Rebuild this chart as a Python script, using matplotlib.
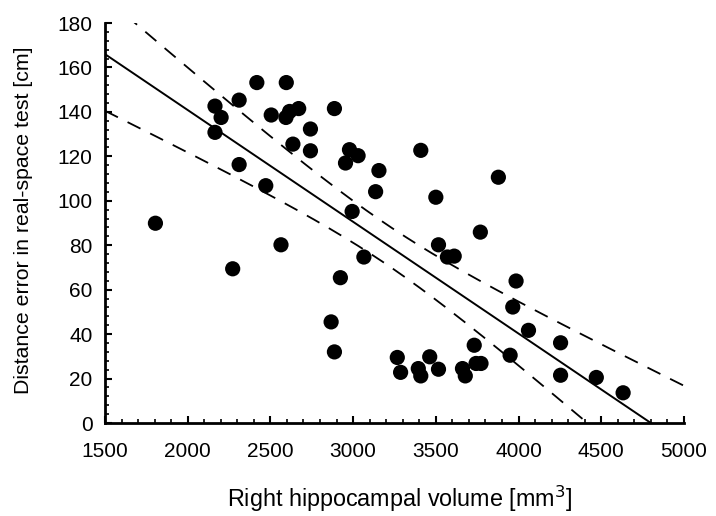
import numpy as np
import matplotlib
matplotlib.use("Agg")
import matplotlib.pyplot as plt
from matplotlib.ticker import MultipleLocator

plt.rcParams['font.family'] = ['Liberation Sans', 'DejaVu Sans']

# Data
volume = [2418, 2596, 2311, 2165, 2202, 2505, 2594, 2616, 2671, 2887,
          2742, 2165, 2636, 2742, 2978, 3030, 2954, 3156, 3136, 2311,
          2472, 2994, 1805, 2564, 2272, 3065, 2923, 2867, 2887, 3267,
          3287, 3409, 3878, 3500, 3769, 3516, 3570, 3611, 3985, 3965,
          4060, 4254, 3732, 3949, 3463, 3394, 3409, 3516, 3661, 3678,
          3743, 3773, 4254, 4470, 4632]
error = [153.2, 153.2, 145.3, 142.6, 137.5, 138.6, 137.5, 140.2, 141.5, 141.5,
         132.3, 130.8, 125.5, 122.5, 123.0, 120.3, 117.0, 113.6, 104.1, 116.3,
         106.8, 95.2, 89.9, 80.2, 69.4, 74.7, 65.4, 45.5, 32.0, 29.5,
         22.8, 122.7, 110.6, 101.6, 85.9, 80.2, 74.7, 75.1, 63.9, 52.2,
         41.7, 36.1, 35.0, 30.5, 29.8, 24.5, 21.2, 24.2, 24.5, 21.2,
         26.8, 26.8, 21.5, 20.5, 13.6]

# Regression line and confidence band parameters
fit_intercept_at_1500 = 166.0
fit_slope = -166.0 / 3300.0
band_center = 3200.0
band_min_halfwidth = 9.0
band_curvature = 1.97e-4

xticks = [1500, 2000, 2500, 3000, 3500, 4000, 4500, 5000]
yticks = [0, 20, 40, 60, 80, 100, 120, 140, 160, 180]

fig = plt.figure(figsize=(7.16, 5.16), dpi=100)
ax = fig.add_axes([0.1466, 0.1802, 0.8087, 0.7752])

xs = np.linspace(1500, 5000, 400)
fit = fit_intercept_at_1500 + fit_slope * (xs - 1500)
half = np.sqrt(band_min_halfwidth**2 + band_curvature * (xs - band_center)**2)

ax.plot(xs, fit, color='black', lw=1.4, zorder=2)
ax.plot(xs, fit + half, color='black', lw=1.3, ls=(0, (8, 6)), zorder=2)
ax.plot(xs, fit - half, color='black', lw=1.3, ls=(0, (8, 6)), zorder=2)

ax.scatter(volume, error, s=120, color='black', edgecolors='none', zorder=3)

ax.set_xlim(1500, 5000)
ax.set_ylim(0, 180)
ax.set_xticks(xticks)
ax.set_yticks(yticks)
ax.xaxis.set_minor_locator(MultipleLocator(100))
ax.yaxis.set_minor_locator(MultipleLocator(4))
ax.tick_params(which='major', direction='in', length=5, width=1.5, labelsize=15)
ax.tick_params(axis='x', which='major', pad=14)
ax.tick_params(axis='y', which='major', pad=9)
ax.tick_params(which='minor', direction='in', length=3, width=1.2)

for s in ['top', 'right']:
    ax.spines[s].set_visible(False)
for s in ['left', 'bottom']:
    ax.spines[s].set_linewidth(2.0)

ax.set_xlabel('Right hippocampal volume [mm$^{3}$]', fontsize=16.8)
ax.set_ylabel('Distance error in real-space test [cm]', fontsize=15.3)
ax.xaxis.set_label_coords(0.51, -0.152)
ax.yaxis.set_label_coords(-0.124, 0.5075)

fig.savefig('out.png', dpi=100)
